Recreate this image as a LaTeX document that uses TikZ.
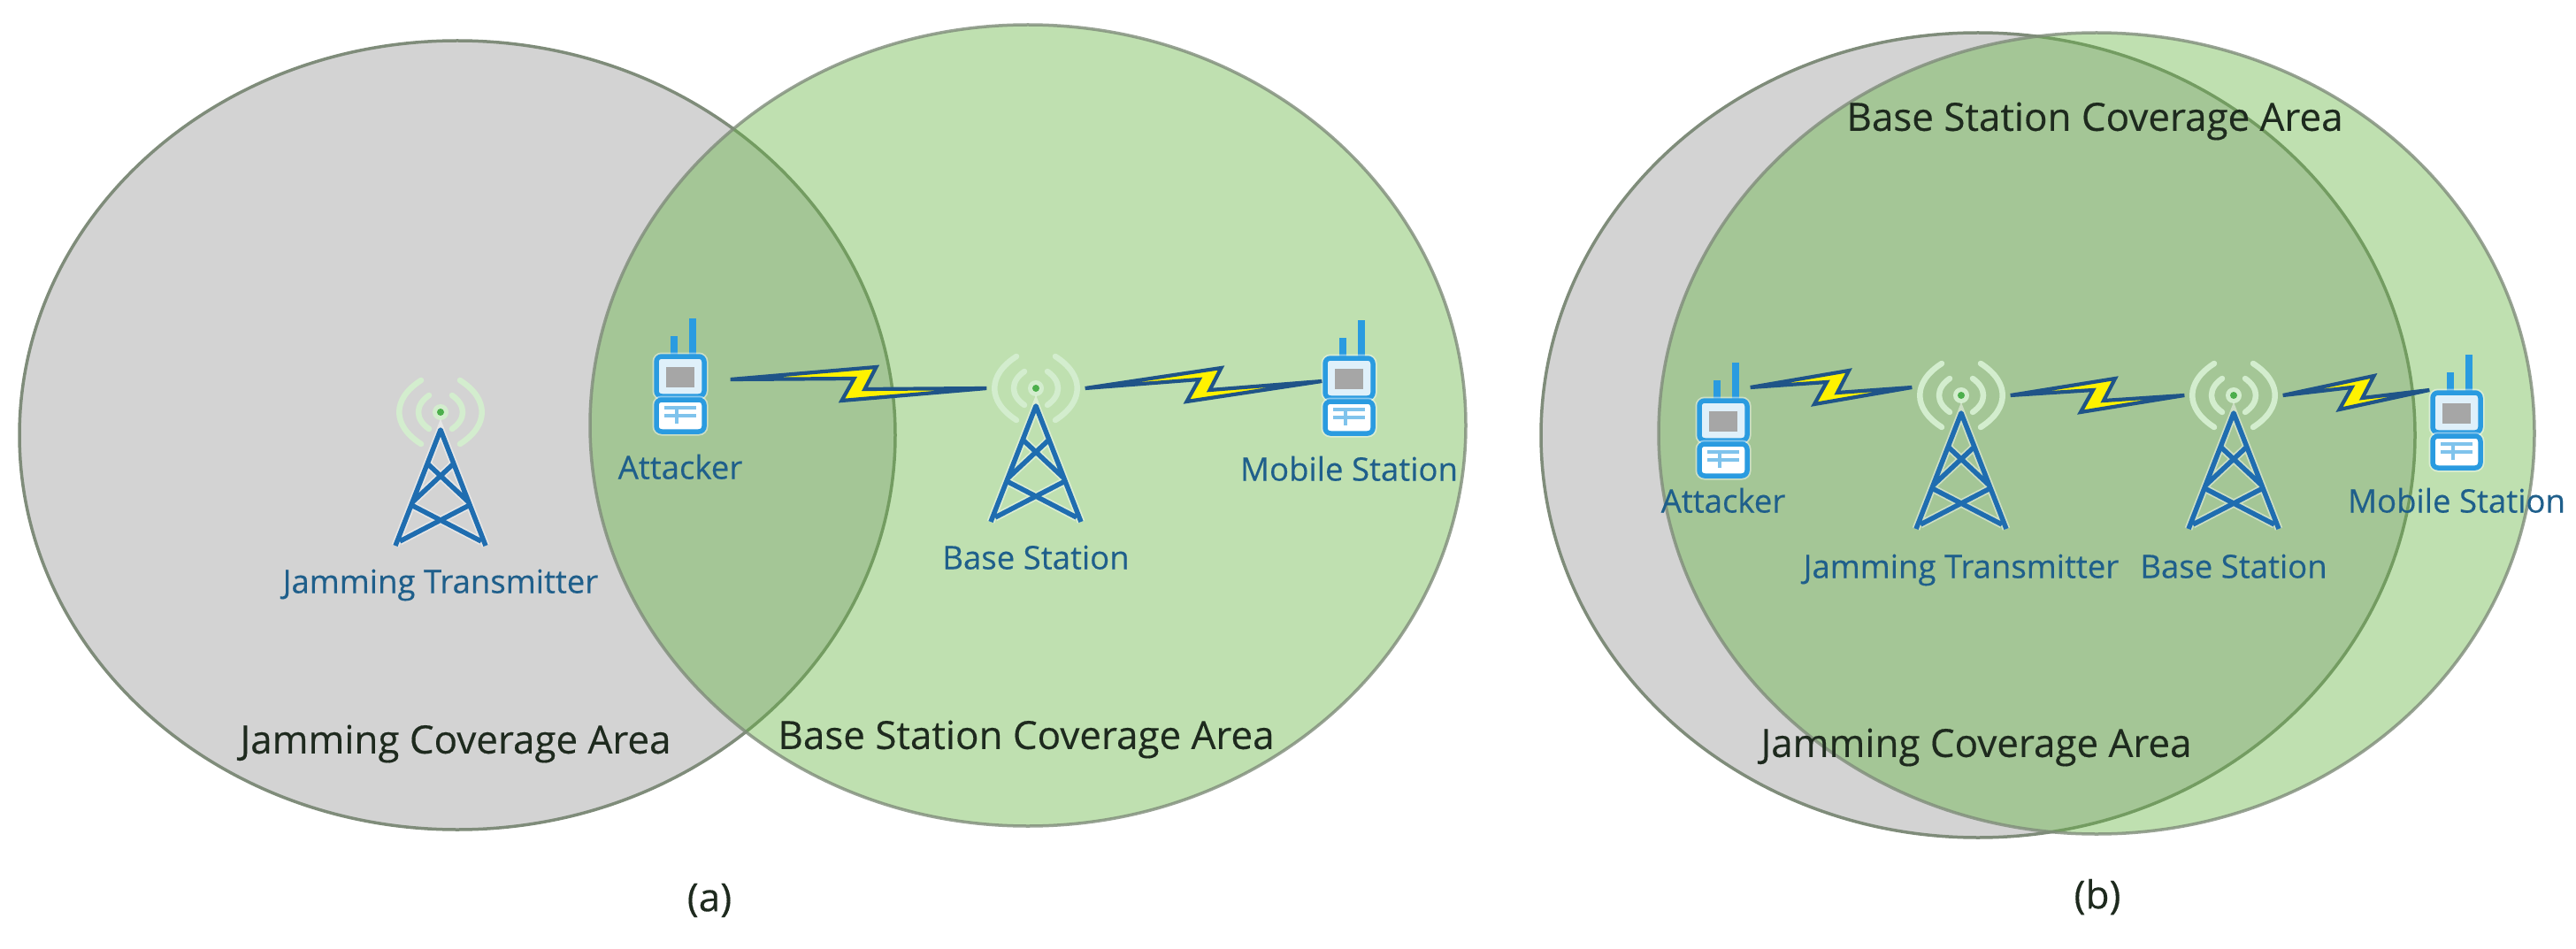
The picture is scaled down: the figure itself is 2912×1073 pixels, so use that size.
\documentclass[tikz,border=0pt]{standalone}
\usepackage{fontspec}
\setmainfont{Open Sans}
\newfontfamily\heavyfont[FakeBold=0.35]{Open Sans}
\usetikzlibrary{calc,positioning}
\definecolor{jamgrey}{HTML}{D3D3D3}
\definecolor{basegreen}{RGB}{99,180,63}
\definecolor{rimgrey}{HTML}{7F8C7A}
\definecolor{towerblue}{HTML}{1F6DB0}
\definecolor{radioblue}{HTML}{2A9BE0}
\definecolor{wavegreen}{HTML}{D3EDCE}
\definecolor{labelblue}{HTML}{1F5F8B}
\definecolor{wireblue}{HTML}{1F5488}
\definecolor{areatext}{HTML}{1E2A1E}

\begin{document}
\begin{tikzpicture}[
  x=0.1mm, y=-0.1mm,
  jamarea/.style={fill=jamgrey, draw=rimgrey, line width=.35mm},
  basearea/.style={fill=basegreen, fill opacity=.41, draw=rimgrey, draw opacity=.8, line width=.35mm},
  towerbox/.style={minimum width=11mm, minimum height=11mm, inner sep=0pt},
  radiobox/.style={minimum width=6mm, minimum height=6mm, inner sep=0pt},
  devlabel/.style={text=labelblue, font=\heavyfont\fontsize{10.4}{12}\selectfont, inner sep=0pt, text height=8pt, text depth=2pt},
  arealabel/.style={text=areatext, font=\heavyfont\fontsize{12.5}{14}\selectfont, inner sep=0pt},
  halo/.style={preaction={draw=white, draw opacity=.45, line width=.9mm}},
  zap/.style={fill=yellow, draw=wireblue, line width=.42mm, line join=miter, to path={
    -- ($(\tikztostart)!.5!(\tikztotarget)+(20,-19)$)
    -- ($(\tikztostart)!.5!(\tikztotarget)+(7,6)$)
    -- (\tikztotarget)
    -- ($(\tikztostart)!.5!(\tikztotarget)+(-19,19)$)
    -- ($(\tikztostart)!.5!(\tikztotarget)+(-5,-6)$)
    -- cycle}},
  pics/towericon/.style={code={
    \draw[wavegreen, line width=.65mm, line cap=round]
      (-22,-36) .. controls (-55,-15) and (-55,15) .. (-22,36)
      (22,-36) .. controls (55,-15) and (55,15) .. (22,36)
      (-13,-19) .. controls (-29,-8) and (-29,8) .. (-13,19)
      (13,-19) .. controls (29,-8) and (29,8) .. (13,19);
    \fill[wavegreen] (0,0) circle (9);
    \fill[green!55!black!70] (0,0) circle (4);
    \draw[towerblue, line width=.55mm, line join=round, halo]
      (-51,151) -- (0,20) -- (51,151)
      (-15,58) -- (32,102) (15,58) -- (-32,102)
      (-33,105) -- (46,146) (33,105) -- (-46,146);
  }},
  pics/radioicon/.style={code={
    \draw[radioblue, line width=.8mm] (-7,-49) -- (-7,-26) (14,-69) -- (14,-26);
    \draw[radioblue, fill=radioblue!15, line width=.55mm, rounded corners=.6mm, halo] (-27,-26) rectangle (27,19);
    \fill[gray!70] (-16,-14) rectangle (16,9);
    \draw[radioblue, fill=white, line width=.55mm, rounded corners=.6mm, halo] (-27,23) rectangle (27,59);
    \draw[radioblue!60, line width=.35mm] (-18,32) -- (18,32) (-4,32) -- (-4,50) (-18,41) -- (18,41);
  }}
]
\useasboundingbox (0,0) rectangle (2912,1073);

% Coverage areas
\draw[jamarea] (517,492) ellipse [x radius=495, y radius=446];
\draw[basearea] (1162,481) ellipse [x radius=495, y radius=453];
\draw[jamarea] (2236,492) ellipse [x radius=494, y radius=455];
\draw[basearea] (2370,490) ellipse [x radius=495, y radius=453];

% Nodes (a)
\node[towerbox] (jamA) at (498,466) {};
\node[radiobox] (attackerA) at (769,429) {};
\node[towerbox] (baseA) at (1171,439) {};
\node[radiobox] (mobileA) at (1525,431) {};
\pic at (jamA) {towericon};
\pic at (attackerA) {radioicon};
\pic at (baseA) {towericon};
\pic at (mobileA) {radioicon};
\node[devlabel, below=12mm of jamA] (jamAtext) {Jamming Transmitter};
\node[devlabel, below=5.3mm of attackerA] (attackerAtext) {Attacker};
\node[devlabel, below=12mm of baseA] (baseAtext) {Base Station};
\node[devlabel, below=5.3mm of mobileA] (mobileAtext) {Mobile Station};

% Nodes (b)
\node[radiobox] (attackerB) at (1948,438) {};
\node[towerbox] (jamB) at (2217,447) {};
\node[towerbox] (baseB) at (2525,447) {};
\node[radiobox] (mobileB) at (2777,441) {};
\pic at ([yshift=-4.1mm]attackerB) {radioicon};
\pic at (jamB) {towericon};
\pic at (baseB) {towericon};
\pic at ([yshift=-2.9mm]mobileB) {radioicon};
\node[devlabel, below=8.2mm of attackerB] (attackerBtext) {Attacker};
\node[devlabel, below=12.2mm of jamB] (jamBtext) {Jamming Transmitter};
\node[devlabel, below=12.2mm of baseB] (baseBtext) {Base Station};
\node[devlabel, below=7.9mm of mobileB] (mobileBtext) {Mobile Station};

% Area labels
\node[arealabel] (jamAarea) at (515,841) {Jamming Coverage Area};
\node[arealabel] (baseAarea) at (1160,836) {Base Station Coverage Area};
\node[arealabel] (baseBarea) at (2368,137) {Base Station Coverage Area};
\node[arealabel] (jamBarea) at (2234,845) {Jamming Coverage Area};
\node[arealabel] (capA) at (802,1018) {(a)};
\node[arealabel] (capB) at (2371,1014) {(b)};

% Connections
\draw[zap] ([xshift=2.6mm]attackerA.east) to (baseA.west);
\draw[zap] (baseA.east) to (mobileA.west);
\draw[zap] (attackerB.east) to ([yshift=.9mm]jamB.west);
\draw[zap] (jamB.east) to (baseB.west);
\draw[zap] (baseB.east) to (mobileB.west);

\end{tikzpicture}
\end{document}
